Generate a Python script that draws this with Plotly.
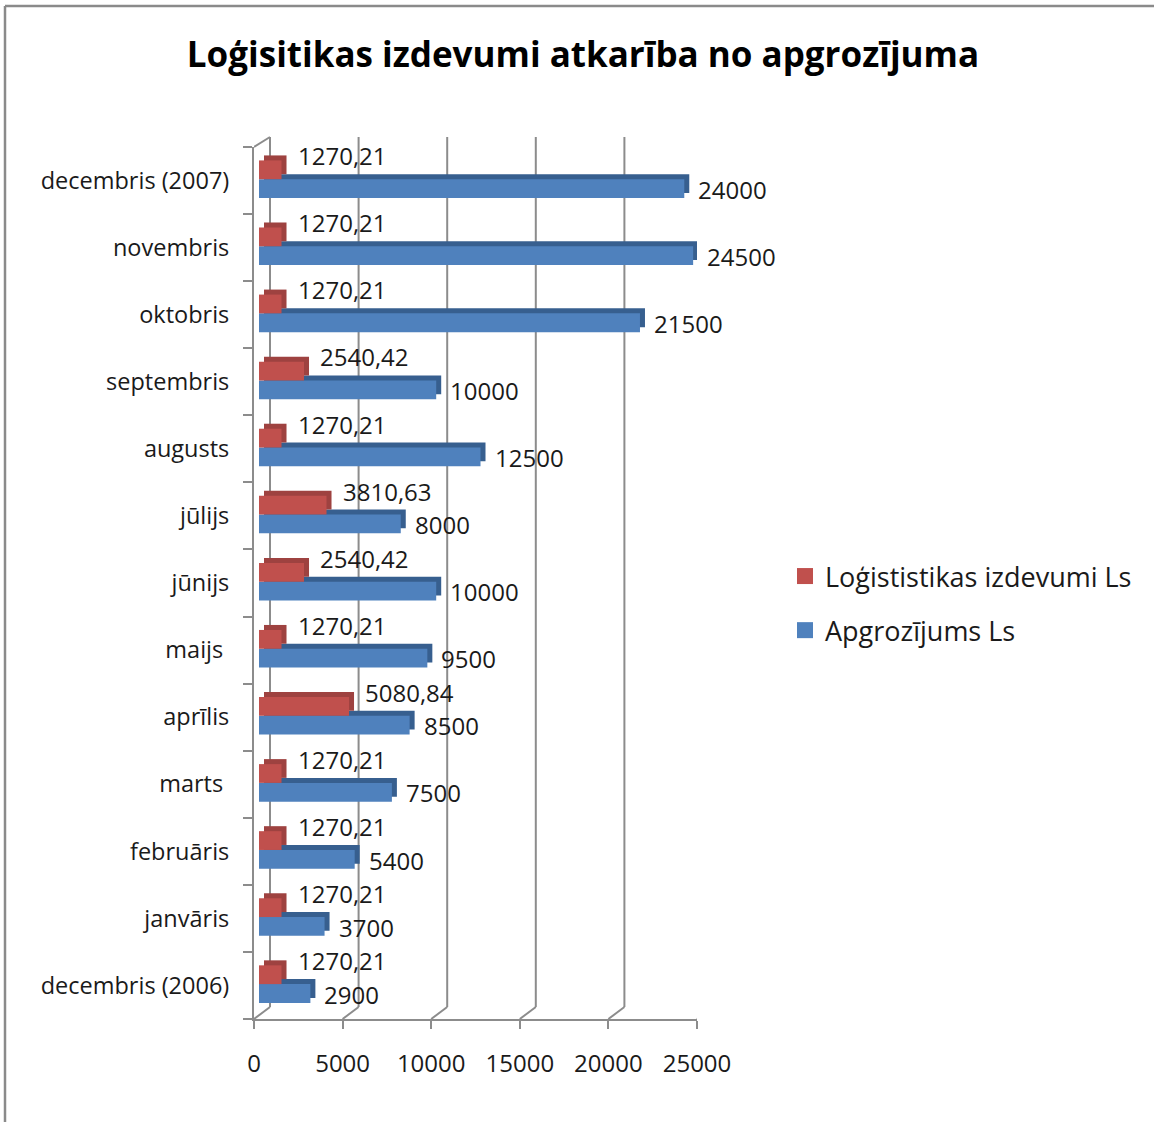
import plotly.graph_objects as go

# ---- data ----
categories = ["decembris (2006)", "janvāris", "februāris", "marts ", "aprīlis", "maijs ",
              "jūnijs", "jūlijs", "augusts", "septembris", "oktobris", "novembris",
              "decembris (2007)"]
turnover = [2900, 3700, 5400, 7500, 8500, 9500, 10000, 8000, 12500, 10000, 21500, 24500, 24000]
logistics = [1270.21, 1270.21, 1270.21, 1270.21, 5080.84, 1270.21, 2540.42, 3810.63,
             1270.21, 2540.42, 1270.21, 1270.21, 1270.21]
x_ticks = [0, 5000, 10000, 15000, 20000, 25000]
series_names = ["Loģististikas izdevumi Ls", "Apgrozījums Ls"]
title_text = "Loģisitikas izdevumi atkarība no apgrozījuma"

# ---- layout constants ----
W, H = 1154, 1122
L, R, T, B = 254, 1154 - 697, 147, 1122 - 1019
plot_w = W - L - R
plot_h = H - T - B
xmax = 25000
s = plot_w / xmax            # px per unit
depth_px = 5                 # bar depth (px)
bar_shift = 5                # bar face offset from front axis (px)
wall_dx, wall_dy = 16, 12    # back wall offset

FONT = "Open Sans"
TXT = "#1a1a1a"
GRID = "#8c8c8c"
RED, RED_D = "#C0504D", "#9E4240"
BLUE, BLUE_D = "#4F81BD", "#375F8F"

fig = go.Figure()

# invisible trace to hold the main (front) axis
fig.add_trace(go.Scatter(x=[0, xmax], y=[categories[0], categories[-1]], mode="markers",
                         marker=dict(opacity=0), hoverinfo="skip", showlegend=False,
                         xaxis="x", yaxis="y"))

fac_w = 0.28
blue_off = -0.26
red_off = 0.02
dep_u = depth_px / (plot_h / len(categories))

# depth (top/side) bars
fig.add_trace(go.Bar(y=categories, x=turnover, orientation="h", xaxis="x2", yaxis="y",
                     offset=blue_off + dep_u, width=fac_w, marker=dict(color=BLUE_D, line=dict(width=0)),
                     showlegend=False, hoverinfo="skip"))
fig.add_trace(go.Bar(y=categories, x=logistics, orientation="h", xaxis="x2", yaxis="y",
                     offset=red_off + dep_u, width=fac_w, marker=dict(color=RED_D, line=dict(width=0)),
                     showlegend=False, hoverinfo="skip"))
# face bars
fig.add_trace(go.Bar(y=categories, x=turnover, orientation="h", xaxis="x3", yaxis="y",
                     offset=blue_off, width=fac_w, marker=dict(color=BLUE, line=dict(width=0)),
                     name=series_names[1], showlegend=False))
fig.add_trace(go.Bar(y=categories, x=logistics, orientation="h", xaxis="x3", yaxis="y",
                     offset=red_off, width=fac_w, marker=dict(color=RED, line=dict(width=0)),
                     name=series_names[0], showlegend=False))

# legend entries (square swatches)
for name, col, rank, grp in [(series_names[0], RED, 1, "a"), (series_names[1], BLUE, 2, "b")]:
    fig.add_trace(go.Scatter(x=[None], y=[None], mode="markers", name=name,
                             marker=dict(symbol="square", size=16, color=col, line=dict(width=0)),
                             legendrank=rank, legendgroup=grp, hoverinfo="skip",
                             xaxis="x", yaxis="y"))

# data labels
lab_font = dict(family=FONT, size=24, color=TXT)
ann = []
for i, v in enumerate(logistics):
    ann.append(dict(x=v, y=i + 0.37, xref="x3", yref="y", xanchor="left", yanchor="middle",
                    text=f"{v:.2f}".replace(".", ","), showarrow=False, xshift=depth_px + 9,
                    font=lab_font))
for i, v in enumerate(turnover):
    ann.append(dict(x=v, y=i - 0.13, xref="x3", yref="y", xanchor="left", yanchor="middle",
                    text=str(v), showarrow=False, xshift=depth_px + 7, font=lab_font))

# back wall gridlines and floor diagonals
shapes = []
for v in x_ticks:
    shapes.append(dict(type="line", xref="x", xsizemode="pixel", xanchor=v, x0=wall_dx, x1=wall_dx,
                       yref="paper", ysizemode="pixel", yanchor=0, y0=wall_dy, y1=plot_h + wall_dy - 2,
                       line=dict(color=GRID, width=2), layer="below"))
    shapes.append(dict(type="line", xref="x", xsizemode="pixel", xanchor=v, x0=0, x1=wall_dx,
                       yref="paper", ysizemode="pixel", yanchor=0, y0=0, y1=wall_dy,
                       line=dict(color=GRID, width=2), layer="below"))
# top-left wall diagonal
shapes.append(dict(type="line", xref="x", xsizemode="pixel", xanchor=0, x0=0, x1=wall_dx,
                   yref="paper", ysizemode="pixel", yanchor=1, y0=0, y1=wall_dy - 2,
                   line=dict(color=GRID, width=2), layer="below"))
# chart border (top and left)
px2x = lambda px: (px - L) / plot_w
py2y = lambda py: (H - B - py) / plot_h
shapes.append(dict(type="line", xref="paper", yref="paper", x0=px2x(5), x1=px2x(W + 5),
                   y0=py2y(6), y1=py2y(6), line=dict(color="#8a8a8a", width=2.5)))
shapes.append(dict(type="line", xref="paper", yref="paper", x0=px2x(5), x1=px2x(5),
                   y0=py2y(6), y1=py2y(H + 5), line=dict(color="#8a8a8a", width=2.5)))

axis_font = dict(family=FONT, size=23.5, color=TXT)
fig.update_layout(
    width=W, height=H, margin=dict(l=L, r=R, t=T, b=B, autoexpand=False),
    paper_bgcolor="white", plot_bgcolor="rgba(0,0,0,0)",
    barmode="overlay",
    title=dict(text=f"<b>{title_text}</b>", x=583 / W, xref="container", xanchor="center",
               y=1 - 55 / H, yref="container", yanchor="middle",
               font=dict(family=FONT, size=35, color="#000000")),
    xaxis=dict(range=[0, xmax], tickvals=x_ticks, ticktext=[str(t) for t in x_ticks],
               showgrid=False, zeroline=False, showline=True, linecolor=GRID, linewidth=2,
               ticks="outside", ticklen=8, tickwidth=2, tickcolor=GRID,
               ticklabelstandoff=14, tickfont=dict(family=FONT, size=24, color=TXT),
               fixedrange=True),
    xaxis2=dict(range=[-(bar_shift + depth_px) / s, xmax - (bar_shift + depth_px) / s],
                overlaying="x", anchor="y", visible=False, fixedrange=True),
    xaxis3=dict(range=[-bar_shift / s, xmax - bar_shift / s],
                overlaying="x", anchor="y", visible=False, fixedrange=True),
    yaxis=dict(type="category", categoryorder="array", categoryarray=categories,
               range=[-0.5, len(categories) - 0.5], showgrid=False, zeroline=False,
               showline=True, linecolor=GRID, linewidth=2, ticks="outside", tickson="boundaries",
               ticklen=9, tickwidth=2, tickcolor=GRID, ticklabelstandoff=18,
               tickfont=axis_font, fixedrange=True),
    legend=dict(x=px2x(785), y=py2y(552), xanchor="left", yanchor="top",
                font=dict(family=FONT, size=27, color=TXT), tracegroupgap=16,
                bgcolor="rgba(0,0,0,0)"),
    annotations=ann, shapes=shapes,
)

fig.write_html("out.html")
